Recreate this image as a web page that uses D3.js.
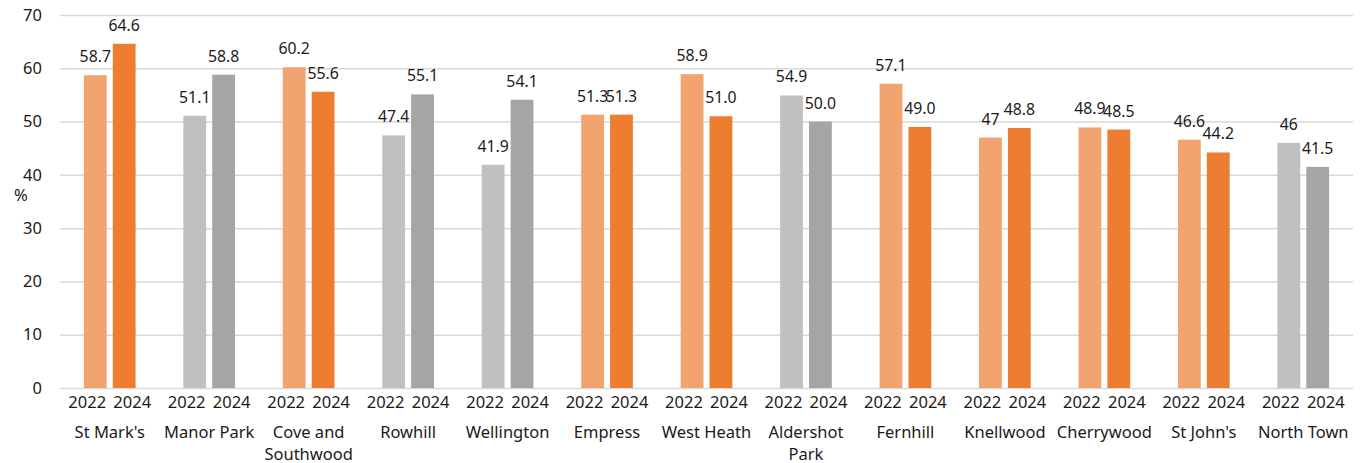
<!DOCTYPE html>
<html>
<head>
<meta charset="utf-8">
<script src="https://cdn.jsdelivr.net/npm/d3@7"></script>
<style>
  body { margin: 0; background: #fff; }
  text { font-family: "Noto Sans", sans-serif; fill: #1a1a1a; }
</style>
</head>
<body>
<div id="chart"></div>
<script>
  // data
  var wards = ["St Mark's", "Manor Park", "Cove and Southwood", "Rowhill", "Wellington", "Empress",
    "West Heath", "Aldershot Park", "Fernhill", "Knellwood", "Cherrywood", "St John's", "North Town"];
  var years = ["2022", "2024"];
  var values2022 = [58.7, 51.1, 60.2, 47.4, 41.9, 51.3, 58.9, 54.9, 57.1, 47, 48.9, 46.6, 46];
  var values2024 = [64.6, 58.8, 55.6, 55.1, 54.1, 51.3, 51.0, 50.0, 49.0, 48.8, 48.5, 44.2, 41.5];
  var labels2022 = ["58.7", "51.1", "60.2", "47.4", "41.9", "51.3", "58.9", "54.9", "57.1", "47", "48.9", "46.6", "46"];
  var labels2024 = ["64.6", "58.8", "55.6", "55.1", "54.1", "51.3", "51.0", "50.0", "49.0", "48.8", "48.5", "44.2", "41.5"];
  var wardGroup = ["o", "g", "o", "g", "g", "o", "o", "g", "o", "o", "o", "o", "g"];
  var yTicks = [0, 10, 20, 30, 40, 50, 60, 70];

  var colors = {
    o: ["#F1A46F", "#ED7D31"],
    g: ["#C0C0C0", "#A5A5A5"]
  };

  var fs = "15.8px";

  var margin = {top: 15, right: 12, bottom: 75, left: 60},
    width = 1365 - margin.left - margin.right,
    height = 463 - margin.top - margin.bottom;

  var svg = d3.select("#chart")
    .append("svg")
    .attr("width", 1365)
    .attr("height", 463)
    .append("g")
    .attr("transform", "translate(" + margin.left + "," + margin.top + ")");

  var x0 = d3.scaleBand().domain(wards).range([0, width]);
  var barSpan = 51.7;
  var x1 = d3.scaleBand().domain(years)
    .range([(x0.bandwidth() - barSpan) / 2, (x0.bandwidth() + barSpan) / 2])
    .paddingInner(0.21);
  var y = d3.scaleLinear().domain([0, 70]).range([height, 0]);

  // gridlines + tick labels
  var yAxis = svg.append("g")
    .call(d3.axisLeft(y).tickValues(yTicks).tickSize(-width).tickPadding(18));
  yAxis.select(".domain").remove();
  yAxis.selectAll(".tick line").attr("stroke", "#D9D9D9").attr("stroke-width", 1.5);
  yAxis.selectAll(".tick text").style("font-size", "16.5px").attr("fill", "#1a1a1a");

  svg.append("text")
    .attr("x", -46)
    .attr("y", y(35) - 1)
    .style("font-size", "16.5px")
    .text("%");

  var rows = wards.map(function(w, i) {
    return {ward: w, group: wardGroup[i],
      bars: [
        {year: "2022", value: values2022[i], label: labels2022[i], idx: 0},
        {year: "2024", value: values2024[i], label: labels2024[i], idx: 1}
      ]};
  });

  var g = svg.selectAll(".ward")
    .data(rows)
    .enter().append("g")
    .attr("class", "ward")
    .attr("transform", function(d) { return "translate(" + x0(d.ward) + ",0)"; });

  g.selectAll("rect")
    .data(function(d) { return d.bars.map(function(b) { b.group = d.group; return b; }); })
    .enter().append("rect")
    .attr("x", function(d) { return x1(d.year); })
    .attr("width", x1.bandwidth())
    .attr("y", function(d) { return y(d.value); })
    .attr("height", function(d) { return height - y(d.value); })
    .attr("fill", function(d) { return colors[d.group][d.idx]; });

  // value labels
  g.selectAll(".val")
    .data(function(d) { return d.bars; })
    .enter().append("text")
    .attr("class", "val")
    .attr("x", function(d) { return x1(d.year) + x1.bandwidth() / 2; })
    .attr("y", function(d) { return y(d.value) - 13; })
    .attr("text-anchor", "middle")
    .style("font-size", fs)
    .text(function(d) { return d.label; });

  // year labels
  g.selectAll(".yr")
    .data(years)
    .enter().append("text")
    .attr("class", "yr")
    .attr("x", function(d, i) { return x0.bandwidth() / 2 + (i == 0 ? -22.5 : 22.5); })
    .attr("y", height + 20)
    .attr("text-anchor", "middle")
    .style("font-size", "16.5px")
    .text(function(d) { return d; });

  // ward names, wrapped like the original
  var wrapped = {"Cove and Southwood": ["Cove and", "Southwood"], "Aldershot Park": ["Aldershot", "Park"]};
  g.append("text")
    .attr("class", "wname")
    .attr("text-anchor", "middle")
    .style("font-size", "16.5px")
    .each(function(d) {
      var lines = wrapped[d.ward] || [d.ward];
      var t = d3.select(this);
      lines.forEach(function(l, i) {
        t.append("tspan")
          .attr("x", x0.bandwidth() / 2)
          .attr("y", height + 50 + i * 22)
          .text(l);
      });
    });
</script>
</body>
</html>
